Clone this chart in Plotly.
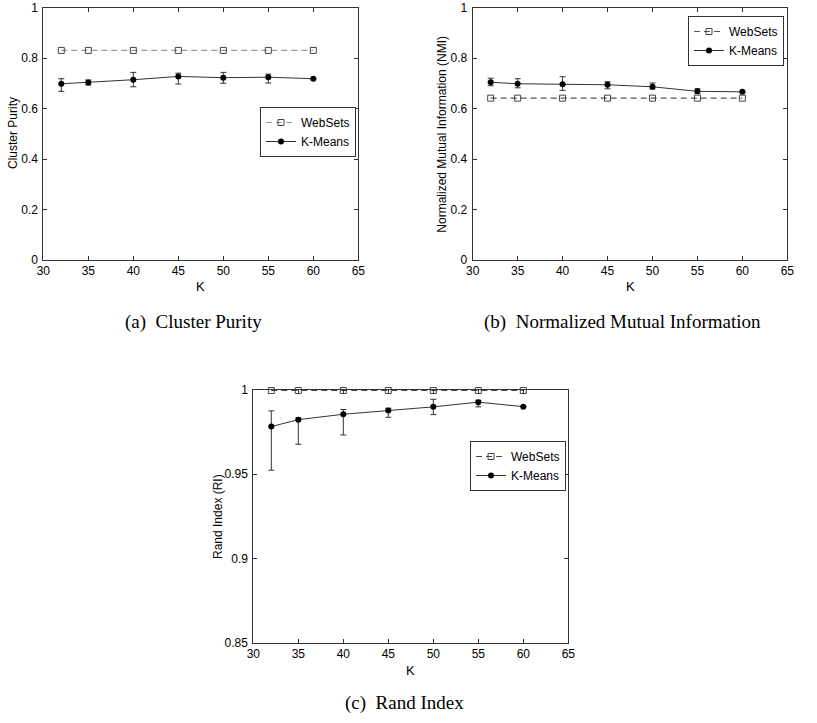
import plotly.graph_objects as go

# ---------------- data ----------------
K = [32, 35, 40, 45, 50, 55, 60]

purity_websets = [0.83, 0.83, 0.83, 0.83, 0.83, 0.83, 0.83]
purity_kmeans = [0.698, 0.703, 0.714, 0.727, 0.722, 0.724, 0.718]
purity_err_plus = [0.020, 0.010, 0.029, 0.013, 0.021, 0.012, 0.0]
purity_err_minus = [0.030, 0.010, 0.028, 0.030, 0.022, 0.023, 0.0]

nmi_websets = [0.641, 0.641, 0.641, 0.641, 0.641, 0.641, 0.641]
nmi_kmeans = [0.704, 0.698, 0.696, 0.694, 0.686, 0.668, 0.666]
nmi_err_plus = [0.016, 0.020, 0.030, 0.012, 0.015, 0.010, 0.0]
nmi_err_minus = [0.014, 0.016, 0.024, 0.016, 0.009, 0.009, 0.0]

ri_websets = [0.9997, 0.9997, 0.9997, 0.9997, 0.9997, 0.9997, 0.9997]
ri_kmeans = [0.9783, 0.9824, 0.9856, 0.9878, 0.9900, 0.9928, 0.9901]
ri_err_plus = [0.0093, 0.0010, 0.0028, 0.0014, 0.0045, 0.0011, 0.0]
ri_err_minus = [0.0259, 0.0146, 0.0123, 0.0040, 0.0046, 0.0028, 0.0]

x_ticks = [30, 35, 40, 45, 50, 55, 60, 65]
y_ticks_01 = [0, 0.2, 0.4, 0.6, 0.8, 1]
y_ticks_ri = [0.85, 0.9, 0.95, 1]

captions = ["(a)  Cluster Purity", "(b)  Normalized Mutual Information", "(c)  Rand Index"]
y_titles = ["Cluster Purity", "Normalized Mutual Information (NMI)", "Rand Index (RI)"]
x_title = "K"

W, H = 817, 723
SANS = "Liberation Sans"
SERIF = "Liberation Serif"


def px_x(p):
    return p / W


def px_y(p):
    return 1 - p / H


fig = go.Figure()

panels = [
    dict(xs="x", ys="y", legend="legend", web=purity_websets, km=purity_kmeans,
         ep=purity_err_plus, em=purity_err_minus, dash_color="#9a9a9a"),
    dict(xs="x2", ys="y2", legend="legend2", web=nmi_websets, km=nmi_kmeans,
         ep=nmi_err_plus, em=nmi_err_minus, dash_color="#555555"),
    dict(xs="x3", ys="y3", legend="legend3", web=ri_websets, km=ri_kmeans,
         ep=ri_err_plus, em=ri_err_minus, dash_color="#444444"),
]

for p in panels:
    fig.add_trace(go.Scatter(
        x=K, y=p["web"], name="WebSets", mode="lines+markers",
        xaxis=p["xs"], yaxis=p["ys"], legend=p["legend"], cliponaxis=False,
        line=dict(color=p["dash_color"], width=1.2, dash="6px,4px"),
        marker=dict(symbol="square-open", size=6, color="#444444",
                    line=dict(width=1, color="#444444")),
    ))
    fig.add_trace(go.Scatter(
        x=K, y=p["km"], name="K-Means", mode="lines+markers",
        xaxis=p["xs"], yaxis=p["ys"], legend=p["legend"], cliponaxis=False,
        line=dict(color="#333333", width=1),
        marker=dict(symbol="circle", size=6, color="#000000"),
        error_y=dict(type="data", symmetric=False, array=p["ep"], arrayminus=p["em"],
                     color="#333333", thickness=1, width=3),
    ))

axis_common = dict(
    showline=True, linecolor="#333333", linewidth=1, mirror="ticks",
    ticks="inside", ticklen=4, tickcolor="#333333", tickwidth=1,
    showgrid=False, zeroline=False, automargin=False, ticklabeloverflow="allow",
    tickfont=dict(family=SANS, size=12, color="#000000"),
)

# domains (pixels -> paper)
dom = [
    dict(x=[43.3, 358.3], y=[260, 7.5]),
    dict(x=[472.7, 787.3], y=[260, 7.5]),
    dict(x=[253.3, 568.3], y=[642.7, 390]),
]

layout_axes = {}
for i, d in enumerate(dom):
    sfx = "" if i == 0 else str(i + 1)
    layout_axes["xaxis" + sfx] = dict(
        axis_common, domain=[px_x(d["x"][0]), px_x(d["x"][1])],
        range=[30, 65], tickvals=x_ticks, anchor="y" + sfx, ticklabelstandoff=0,
    )
    yt = y_ticks_ri if i == 2 else y_ticks_01
    yr = [0.85, 1] if i == 2 else [0, 1]
    layout_axes["yaxis" + sfx] = dict(
        axis_common, domain=[px_y(d["y"][0]), px_y(d["y"][1])],
        range=yr, tickvals=yt, anchor="x" + sfx, ticklabelstandoff=2,
    )

legend_common = dict(
    bgcolor="#ffffff", bordercolor="#333333", borderwidth=1,
    font=dict(family=SANS, size=12, color="#000"),
    xanchor="right", yanchor="top", tracegroupgap=0, itemwidth=30,
)

fig.update_layout(
    width=W, height=H,
    margin=dict(l=0, r=0, t=0, b=0, autoexpand=False),
    paper_bgcolor="#ffffff", plot_bgcolor="#ffffff",
    showlegend=True, hovermode=False,
    legend=dict(legend_common, x=px_x(356), y=px_y(107)),
    legend2=dict(legend_common, x=px_x(784), y=px_y(16)),
    legend3=dict(legend_common, x=px_x(566), y=px_y(441)),
    **layout_axes,
)

# axis titles as positioned text
ytitle_pos = [(13, 133), (441.7, 134), (218, 517)]
for text, (cx, cy) in zip(y_titles, ytitle_pos):
    fig.add_annotation(
        text=text, x=px_x(cx), y=px_y(cy), xref="paper", yref="paper",
        showarrow=False, xanchor="center", yanchor="middle", textangle=-90,
        font=dict(family=SANS, size=12, color="#000"),
    )
xtitle_pos = [(200.8, 287), (630, 287), (410.8, 670)]
for cx, cy in xtitle_pos:
    fig.add_annotation(
        text=x_title, x=px_x(cx), y=px_y(cy), xref="paper", yref="paper",
        showarrow=False, xanchor="center", yanchor="middle",
        font=dict(family=SANS, size=13, color="#000"),
    )

cap_pos = [(193, 321.7), (622, 321.7), (404, 703)]
for text, (cx, cy) in zip(captions, cap_pos):
    fig.add_annotation(
        text=text, x=px_x(cx), y=px_y(cy), xref="paper", yref="paper",
        showarrow=False, xanchor="center", yanchor="middle",
        font=dict(family=SERIF, size=19, color="#000"),
    )

fig.write_html("out.html", config={"displayModeBar": False, "staticPlot": True},
               post_script="document.body.style.margin='0';document.body.style.overflow='hidden';")
